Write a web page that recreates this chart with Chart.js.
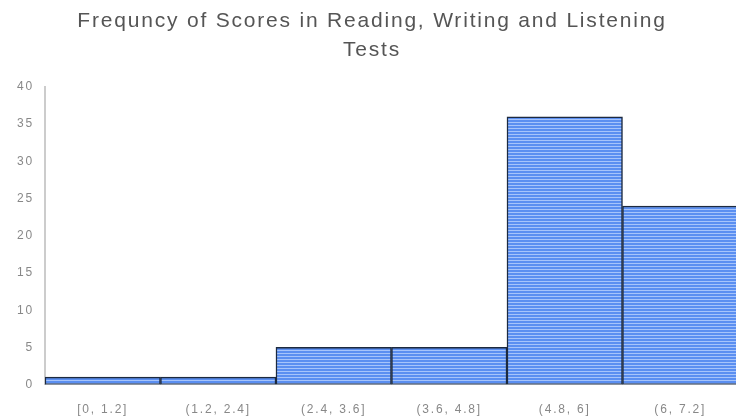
<!DOCTYPE html>
<html>
<head>
<meta charset="utf-8">
<script src="https://cdn.jsdelivr.net/npm/chart.js@4/dist/chart.umd.min.js"></script>
<style>
  html, body { margin: 0; padding: 0; background: #fff; overflow: hidden; }
  #wrap { width: 738px; height: 419px; }
</style>
</head>
<body>
<div id="wrap"><canvas id="hist"></canvas></div>
<script>
const binLabels = ['[0, 1.2]', '(1.2, 2.4]', '(2.4, 3.6]', '(3.6, 4.8]', '(4.8, 6]', '(6, 7.2]'];
const frequencies = [1, 1, 5, 5, 36, 24];
const titleLines = ['Frequncy of Scores in Reading, Writing and Listening', 'Tests'];

// striped blue fill like the original
function stripePattern(){
  const c = document.createElement('canvas');
  c.width = 4; c.height = 3;
  const g = c.getContext('2d');
  g.fillStyle = '#5b8ff1'; g.fillRect(0, 0, 4, 3);
  g.fillStyle = '#a6c4fb'; g.fillRect(0, 2, 4, 1);
  return g.createPattern(c, 'repeat');
}

// the original text is drawn with wide letter spacing
const spacing = {
  id: 'spacing',
  beforeLayout(chart){ chart.ctx.letterSpacing = '1.8px'; },
  beforeDraw(chart){ chart.ctx.letterSpacing = '1.8px'; }
};

const ctx = document.getElementById('hist').getContext('2d');
new Chart(ctx, {
  type: 'bar',
  data: {
    labels: binLabels,
    datasets: [{
      data: frequencies,
      backgroundColor: stripePattern(),
      borderColor: '#1d2a3f',
      borderWidth: 1.5,
      borderSkipped: false,
      barPercentage: 1,
      categoryPercentage: 1
    }]
  },
  plugins: [spacing],
  options: {
    responsive: true,
    maintainAspectRatio: false,
    animation: false,
    layout: { padding: { left: 6, right: 0, top: 7, bottom: -16 } },
    plugins: {
      legend: { display: false },
      tooltip: { enabled: false },
      title: {
        display: true,
        text: titleLines,
        color: '#555',
        font: { family: 'Liberation Sans', size: 21, weight: 'normal', lineHeight: 1.38 },
        padding: { top: 0, bottom: 22 }
      }
    },
    scales: {
      x: {
        grid: { display: false, drawTicks: false },
        border: { display: false },
        ticks: { color: '#888', font: { family: 'Liberation Sans', size: 12 }, padding: 18, maxRotation: 0 }
      },
      y: {
        min: 0, max: 40,
        ticks: { stepSize: 5, color: '#888', font: { family: 'Liberation Sans', size: 12 }, padding: 11 },
        grid: { display: false, drawTicks: false },
        border: { display: true, color: '#ccc', width: 2 }
      }
    }
  }
});
</script>
</body>
</html>
